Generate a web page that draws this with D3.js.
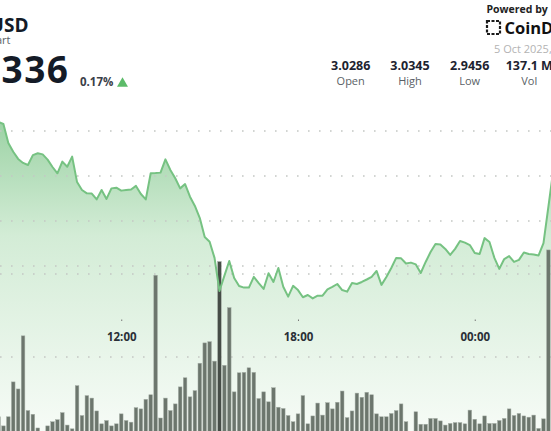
<!DOCTYPE html>
<html>
<head>
<meta charset="utf-8">
<script src="https://cdn.jsdelivr.net/npm/d3@7"></script>
<style>
body { margin: 0; background: #fff; overflow: hidden; }
svg { display: block; font-family: "Open Sans", "Noto Sans", sans-serif; }
</style>
</head>
<body>
<div id="chart"></div>
<script>
var width = 551;
var height = 431;

// 10 minute candles, the first visible one at 07:50 on 4 Oct
var startTime = new Date(2025, 9, 4, 7, 50);
var stepMinutes = 10;

var prices = [
  3.0240, 3.0231, 3.0147, 3.0108, 3.0076, 3.0058, 3.0049, 3.0093, 3.0101, 3.0096,
  3.0073, 3.0040, 3.0012, 3.0064, 3.0041, 3.0086, 2.9973, 2.9938, 2.9923, 2.9922,
  2.9896, 2.9938, 2.9898, 2.9945, 2.9948, 2.9935, 2.9938, 2.9940, 2.9956, 2.9920,
  2.9896, 3.0012, 3.0013, 3.0015, 3.0074, 3.0027, 2.9990, 2.9945, 2.9964, 2.9908,
  2.9867, 2.9813, 2.9729, 2.9708, 2.9636, 2.9489, 2.9556, 2.9622, 2.9547, 2.9511,
  2.9504, 2.9504, 2.9552, 2.9524, 2.9498, 2.9568, 2.9529, 2.9591, 2.9508, 2.9464,
  2.9512, 2.9493, 2.9461, 2.9471, 2.9456, 2.9468, 2.9468, 2.9496, 2.9507, 2.9520,
  2.9493, 2.9486, 2.9524, 2.9520, 2.9529, 2.9540, 2.9552, 2.9578, 2.9516, 2.9551,
  2.9591, 2.9636, 2.9634, 2.9611, 2.9615, 2.9607, 2.9569, 2.9618, 2.9662, 2.9698,
  2.9696, 2.9676, 2.9649, 2.9676, 2.9711, 2.9704, 2.9693, 2.9658, 2.9653, 2.9724,
  2.9707, 2.9636, 2.9587, 2.9631, 2.9644, 2.9618, 2.9627, 2.9660, 2.9653, 2.9651,
  2.9647, 2.9702, 2.9864, 3.0027
];

// volume per candle, millions
var volumes = [
  0.56, 0.34, 0.56, 1.40, 1.23, 2.51, 0.71, 0.62, 0.29, 0.15,
  0.34, 0.44, 0.49, 0.66, 0.36, 0.27, 1.31, 0.59, 1.07, 1.01,
  0.70, 0.39, 0.47, 0.34, 0.39, 0.63, 0.47, 0.43, 0.78, 0.75,
  0.98, 1.09, 3.97, 0.53, 1.01, 0.71, 0.87, 1.28, 1.50, 1.04,
  1.19, 1.85, 2.34, 2.37, 1.90, 4.30, 1.80, 3.19, 1.16, 1.62,
  1.63, 1.74, 1.63, 1.00, 1.16, 0.92, 1.26, 0.79, 0.76, 0.59,
  0.44, 0.63, 1.07, 0.39, 0.58, 0.89, 0.60, 0.90, 0.75, 0.91,
  1.18, 0.54, 0.70, 1.13, 1.03, 1.15, 1.09, 0.63, 0.56, 0.56,
  0.64, 0.71, 0.87, 0.44, 0.15, 0.68, 0.38, 0.38, 0.52, 0.52,
  0.46, 0.36, 0.40, 0.42, 0.42, 0.39, 0.72, 0.50, 0.39, 0.58,
  0.40, 0.40, 0.47, 0.52, 0.75, 0.59, 0.64, 0.58, 0.55, 0.60,
  0.28, 0.51, 4.58
];
var highlightIndex = 45;

var priceGrid = [3.02, 3.00, 2.98, 2.96];
var volumeGrid = [2, 4];
var timeTicks = [new Date(2025, 9, 4, 12, 0), new Date(2025, 9, 4, 18, 0), new Date(2025, 9, 5, 0, 0)];

var statValues = ["3.0286", "3.0345", "2.9456", "137.1 M"];
var statLabels = ["Open", "High", "Low", "Vol"];

var priceData = prices.map(function(p, i) {
  return { t: d3.timeMinute.offset(startTime, i * stepMinutes), v: p };
});
var volumeData = volumes.map(function(v, i) {
  return { t: d3.timeMinute.offset(startTime, i * stepMinutes), v: v, i: i };
});

var x = d3.scaleTime()
  .domain([startTime, d3.timeMinute.offset(startTime, 112 * stepMinutes)])
  .range([-1.5, 548.4]);
var y = d3.scaleLinear().domain([2.96, 3.02]).range([266, 131]);
var yVol = d3.scaleLinear().domain([0, 4]).range([440, 274]);
var step = x(d3.timeMinute.offset(startTime, stepMinutes)) - x(startTime);
var barW = step * 0.74;

var svg = d3.select("#chart").append("svg")
  .attr("width", width)
  .attr("height", height);

var defs = svg.append("defs");
var grad = defs.append("linearGradient")
  .attr("id", "areaFill")
  .attr("gradientUnits", "userSpaceOnUse")
  .attr("x1", 0).attr("y1", 110).attr("x2", 0).attr("y2", 440);
grad.append("stop").attr("offset", 0).attr("stop-color", "#97d0a0");
grad.append("stop").attr("offset", 0.38).attr("stop-color", "#d3ecd6");
grad.append("stop").attr("offset", 1).attr("stop-color", "#f8fcf8");

svg.append("rect").attr("width", width).attr("height", height).attr("fill", "#fff");

// area under the price line
var area = d3.area()
  .x(function(d) { return x(d.t); })
  .y0(yVol(0))
  .y1(function(d) { return y(d.v); });
svg.append("path")
  .datum(priceData)
  .attr("d", area)
  .attr("fill", "url(#areaFill)");

// dotted grid lines
var grid = svg.append("g").attr("class", "grid");
grid.selectAll("line.price")
  .data(priceGrid)
  .enter().append("line")
  .attr("class", "price")
  .attr("x1", 0).attr("x2", width)
  .attr("y1", function(d) { return y(d); })
  .attr("y2", function(d) { return y(d); });
grid.selectAll("line.vol")
  .data(volumeGrid)
  .enter().append("line")
  .attr("class", "vol")
  .attr("x1", 0).attr("x2", width)
  .attr("y1", function(d) { return yVol(d); })
  .attr("y2", function(d) { return yVol(d); });
grid.selectAll("line")
  .attr("stroke", "#c4c8c4")
  .attr("stroke-width", 1.6)
  .attr("stroke-dasharray", "1.6,9.4");

// volume bars
svg.append("g")
  .selectAll("rect")
  .data(volumeData)
  .enter().append("rect")
  .attr("x", function(d) { return x(d.t) - barW / 2; })
  .attr("y", function(d) { return yVol(d.v); })
  .attr("width", barW)
  .attr("height", function(d) { return yVol(0) - yVol(d.v); })
  .attr("fill", function(d) { return d.i === highlightIndex ? "#464d47" : "#6c766d"; })
  .attr("stroke", "#a7b0a8")
  .attr("stroke-width", 0.5);

// price line
var line = d3.line()
  .x(function(d) { return x(d.t); })
  .y(function(d) { return y(d.v); });
svg.append("path")
  .datum(priceData)
  .attr("d", line)
  .attr("fill", "none")
  .attr("stroke", "#76c282")
  .attr("stroke-width", 2)
  .attr("stroke-linejoin", "round");

// time axis
var xAxis = d3.axisBottom(x)
  .tickValues(timeTicks)
  .tickFormat(d3.timeFormat("%H:%M"))
  .tickSizeInner(1.5)
  .tickSizeOuter(0)
  .tickPadding(12);
var axisG = svg.append("g")
  .attr("transform", "translate(0,319.5)")
  .call(xAxis);
axisG.select(".domain").remove();
axisG.selectAll(".tick line").attr("stroke", "#777");
axisG.selectAll(".tick text")
  .attr("fill", "#2a2f36")
  .style("font-size", "11.5px")
  .style("font-weight", "700")
  .style("font-family", "'Open Sans', sans-serif");

// header
var header = svg.append("g");
header.append("text")
  .attr("x", 28.5).attr("y", 32)
  .attr("text-anchor", "end")
  .attr("fill", "#141b27")
  .style("font-size", "19px").style("font-weight", "700")
  .text("XRP/USD");
header.append("text")
  .attr("x", 10.5).attr("y", 43.5)
  .attr("text-anchor", "end")
  .attr("fill", "#5a5f66")
  .style("font-size", "11px")
  .text("24h Chart");
header.append("text")
  .attr("x", 69.5).attr("y", 83)
  .attr("text-anchor", "end")
  .attr("fill", "#141b27")
  .style("font-size", "37px").style("font-weight", "700")
  .style("letter-spacing", "1.5px")
  .text("3.0336");
header.append("text")
  .attr("x", 80).attr("y", 86)
  .attr("fill", "#3b4048")
  .style("font-size", "11.5px").style("font-weight", "700")
  .text("0.17%");
header.append("path")
  .attr("d", d3.symbol().type(d3.symbolTriangle).size(52)())
  .attr("transform", "translate(122.5,83.5)")
  .attr("fill", "#5cbb69");

header.append("text")
  .attr("x", 486.5).attr("y", 12.5)
  .attr("fill", "#222")
  .style("font-size", "10.5px").style("font-weight", "700")
  .text("Powered by");
// little logo mark
header.append("rect")
  .attr("x", 487).attr("y", 21).attr("width", 13).attr("height", 13)
  .attr("fill", "none")
  .attr("stroke", "#1a1a1a")
  .attr("stroke-width", 2.2)
  .attr("stroke-dasharray", "3,1.5");
header.append("text")
  .attr("x", 504.5).attr("y", 34)
  .attr("fill", "#111")
  .style("font-size", "16.5px").style("font-weight", "700")
  .text("CoinDesk");
header.append("text")
  .attr("x", 494).attr("y", 52.5)
  .attr("fill", "#b3b3b3")
  .style("font-size", "11px")
  .text("5 Oct 2025, 08:00");

var statX = [350.7, 410, 469.7, 529.3];
header.selectAll("text.statv")
  .data(statValues)
  .enter().append("text")
  .attr("class", "statv")
  .attr("x", function(d, i) { return statX[i]; })
  .attr("y", 70)
  .attr("text-anchor", "middle")
  .attr("fill", "#1d2330")
  .style("font-size", "12.5px").style("font-weight", "700")
  .text(function(d) { return d; });
header.selectAll("text.statl")
  .data(statLabels)
  .enter().append("text")
  .attr("class", "statl")
  .attr("x", function(d, i) { return statX[i]; })
  .attr("y", 84.5)
  .attr("text-anchor", "middle")
  .attr("fill", "#5a5f66")
  .style("font-size", "11px")
  .text(function(d) { return d; });
</script>
</body>
</html>
